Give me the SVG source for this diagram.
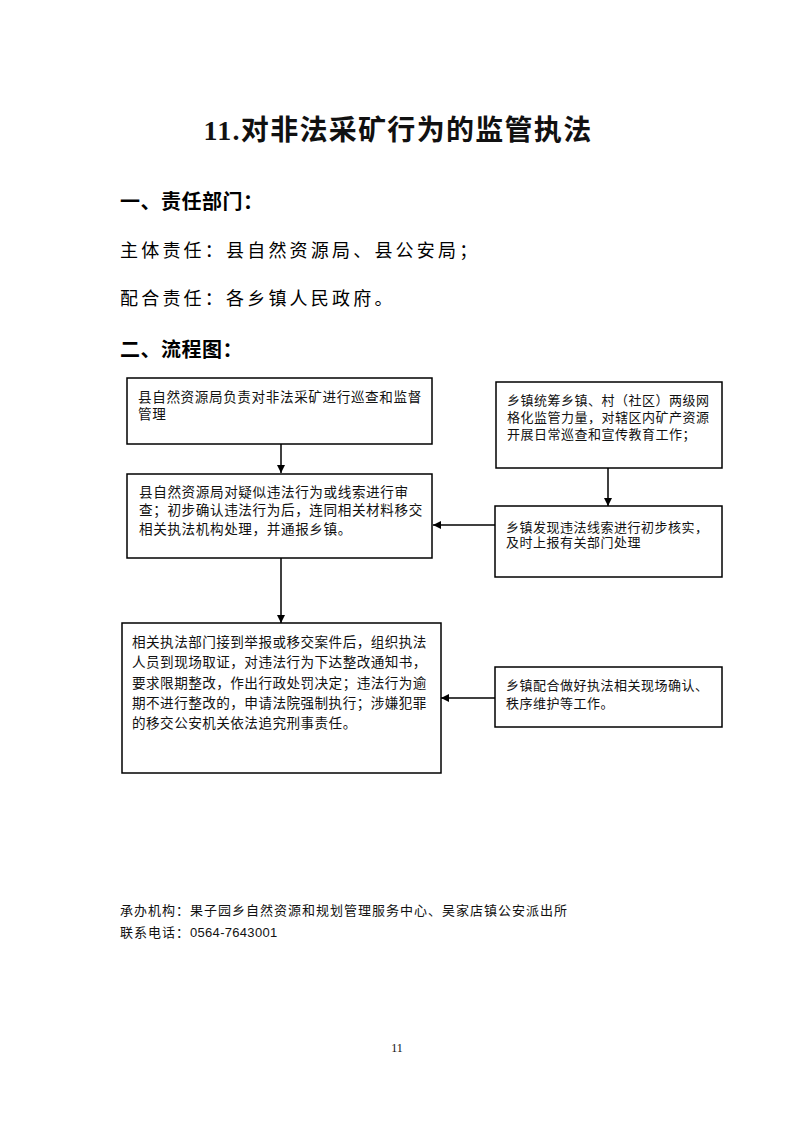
<svg xmlns="http://www.w3.org/2000/svg" width="793" height="1122" viewBox="0 0 793 1122">
<defs>
<marker id="ah" viewBox="0 0 10 10" refX="10" refY="5" markerWidth="8" markerHeight="8" markerUnits="userSpaceOnUse" orient="auto">
<path d="M0,0 L10,5 L0,10 Z" fill="#000"/>
</marker>
<style>
.bg{fill:#fff}
.box{fill:#fff;stroke:#000;stroke-width:1.5}
.conn{stroke:#000;stroke-width:1.5;fill:none;marker-end:url(#ah)}
.t{font-family:"Liberation Serif","Noto Sans CJK SC",serif;fill:#111}
.h{font-family:"Liberation Sans","Noto Sans CJK SC",sans-serif;fill:#000}
.b14{font-size:13.6px;letter-spacing:0.6px}
.b3{font-size:13.6px;letter-spacing:0.45px}
.b13{font-size:13px;letter-spacing:0.5px}
</style>
</defs>
<rect class="bg" x="0" y="0" width="793" height="1122"/>
<text class="t" x="398" y="140" font-size="28" font-weight="bold" text-anchor="middle" letter-spacing="1.3">11.对非法采矿行为的监管执法</text>
<text class="h" x="120" y="209" font-size="20" font-weight="bold" letter-spacing="0.5">一、责任部门：</text>
<text class="h" x="120" y="257" font-size="18" letter-spacing="3.2">主体责任：县自然资源局、县公安局；</text>
<text class="h" x="120" y="305" font-size="18" letter-spacing="3.2">配合责任：各乡镇人民政府。</text>
<text class="h" x="120" y="357" font-size="20" font-weight="bold" letter-spacing="0.5">二、流程图：</text>

<g id="connectors">
<line class="conn" x1="281" y1="444" x2="281" y2="473"/>
<line class="conn" x1="281" y1="558" x2="281" y2="623"/>
<line class="conn" x1="608" y1="468" x2="608" y2="506"/>
<line class="conn" x1="495" y1="525" x2="433" y2="525"/>
<line class="conn" x1="495" y1="698" x2="441" y2="698"/>
</g>

<g id="n1">
<rect class="box" x="127" y="378" width="305" height="66"/>
<text class="t b14" x="138" y="402">县自然资源局负责对非法采矿进行巡查和监督</text>
<text class="t b14" x="138" y="419">管理</text>
</g>
<g id="n2">
<rect class="box" x="127" y="474" width="305" height="84"/>
<text class="t b14" x="139" y="497">县自然资源局对疑似违法行为或线索进行审</text>
<text class="t b14" x="139" y="515">查；初步确认违法行为后，连同相关材料移交</text>
<text class="t b14" x="139" y="534">相关执法机构处理，并通报乡镇。</text>
</g>
<g id="n3">
<rect class="box" x="122" y="623" width="319" height="150"/>
<text class="t b3" x="132" y="647">相关执法部门接到举报或移交案件后，组织执法</text>
<text class="t b3" x="132" y="667">人员到现场取证，对违法行为下达整改通知书，</text>
<text class="t b3" x="132" y="688">要求限期整改，作出行政处罚决定；违法行为逾</text>
<text class="t b3" x="132" y="708">期不进行整改的，申请法院强制执行；涉嫌犯罪</text>
<text class="t b3" x="132" y="728">的移交公安机关依法追究刑事责任。</text>
</g>
<g id="nA">
<rect class="box" x="496" y="382" width="226" height="86"/>
<text class="t b13" x="507" y="405">乡镇统筹乡镇、村（社区）两级网</text>
<text class="t b13" x="507" y="422">格化监管力量，对辖区内矿产资源</text>
<text class="t b13" x="507" y="439">开展日常巡查和宣传教育工作；</text>
</g>
<g id="nB">
<rect class="box" x="495" y="506" width="227" height="71"/>
<text class="t b13" x="506" y="532">乡镇发现违法线索进行初步核实，</text>
<text class="t b13" x="506" y="547">及时上报有关部门处理</text>
</g>
<g id="nC">
<rect class="box" x="495" y="667" width="227" height="60"/>
<text class="t b13" x="506" y="690">乡镇配合做好执法相关现场确认、</text>
<text class="t b13" x="506" y="708">秩序维护等工作。</text>
</g>

<text class="t" x="120" y="915" font-size="13" letter-spacing="1">承办机构：果子园乡自然资源和规划管理服务中心、吴家店镇公安派出所</text>
<text class="t" x="120" y="937" font-size="13" letter-spacing="1">联系电话：<tspan font-family="Liberation Sans, sans-serif" letter-spacing="0.3">0564-7643001</tspan></text>
<text class="t" x="397" y="1052" font-size="12" text-anchor="middle">11</text>
</svg>
